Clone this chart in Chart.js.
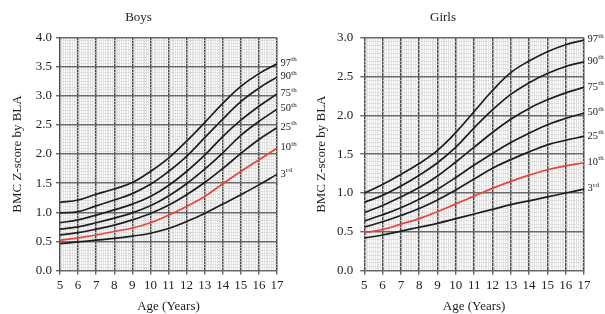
<!DOCTYPE html>
<html><head><meta charset="utf-8">
<script src="https://cdn.jsdelivr.net/npm/chart.js@4.4.1/dist/chart.umd.min.js"></script>
<style>
html,body{margin:0;padding:0;background:#fff;width:605px;height:314px;overflow:hidden}
.c{position:absolute;top:0;height:314px}
#wb{left:0;width:302px}
#wg{left:302px;width:303px}
</style></head><body>
<div class="c" id="wb"><canvas id="boys" width="302" height="314"></canvas></div>
<div class="c" id="wg"><canvas id="girls" width="303" height="314"></canvas></div>
<script>
// ---- data ----
const ages = [5,6,7,8,9,10,11,12,13,14,15,16,17];
const percentileNames = ['97','90','75','50','25','10','3'];
const percentileSuffix = ['th','th','th','th','th','th','rd'];

const boys97 = [1.17,1.21,1.31,1.40,1.51,1.70,1.93,2.22,2.54,2.87,3.16,3.38,3.55];
const boys90 = [0.99,1.01,1.11,1.21,1.32,1.48,1.70,1.96,2.28,2.60,2.90,3.13,3.32];
const boys75 = [0.82,0.87,0.95,1.04,1.14,1.27,1.46,1.70,1.98,2.30,2.58,2.82,3.03];
const boys50 = [0.71,0.75,0.82,0.90,0.99,1.11,1.28,1.49,1.74,2.02,2.32,2.56,2.77];
const boys25 = [0.61,0.65,0.71,0.78,0.87,0.98,1.12,1.30,1.51,1.75,2.01,2.25,2.45];
const boys10 = [0.52,0.56,0.61,0.67,0.73,0.82,0.95,1.10,1.27,1.49,1.70,1.90,2.10];
const boys3  = [0.46,0.49,0.52,0.55,0.59,0.64,0.72,0.84,0.98,1.14,1.30,1.47,1.65];

const girls97 = [1.00,1.11,1.24,1.38,1.55,1.78,2.05,2.32,2.55,2.70,2.82,2.91,2.97];
const girls90 = [0.88,0.97,1.09,1.23,1.39,1.59,1.84,2.07,2.27,2.42,2.54,2.63,2.69];
const girls75 = [0.75,0.84,0.95,1.07,1.22,1.40,1.59,1.78,1.95,2.09,2.20,2.29,2.36];
const girls50 = [0.64,0.72,0.81,0.92,1.05,1.20,1.36,1.51,1.65,1.77,1.88,1.96,2.03];
const girls25 = [0.56,0.63,0.71,0.80,0.91,1.04,1.18,1.32,1.43,1.53,1.62,1.68,1.73];
const girls10 = [0.49,0.53,0.60,0.67,0.76,0.86,0.96,1.06,1.15,1.23,1.30,1.35,1.39];
const girls3  = [0.42,0.46,0.51,0.56,0.61,0.67,0.73,0.79,0.85,0.90,0.95,1.00,1.05];

const boysSeries = [boys97,boys90,boys75,boys50,boys25,boys10,boys3];
const girlsSeries = [girls97,girls90,girls75,girls50,girls25,girls10,girls3];

// ---- rendering ----
const FONT = '"Liberation Serif", "Times New Roman", serif';
Chart.defaults.font.family = FONT;
Chart.defaults.font.size = 13;
Chart.defaults.color = '#222';

const isWhole = (v, step) => Math.abs(v/step - Math.round(v/step)) < 1e-6;

const pctLabels = {
  id: 'pctLabels',
  afterDatasetsDraw(chart) {
    const ctx = chart.ctx;
    chart.data.datasets.forEach((ds, i) => {
      const meta = chart.getDatasetMeta(i);
      const pt = meta.data[meta.data.length - 1];
      const x = chart.chartArea.right + 3.5, y = pt.y - 0.5;
      ctx.save();
      ctx.fillStyle = '#222';
      ctx.textBaseline = 'middle';
      ctx.textAlign = 'left';
      ctx.font = '10.5px ' + FONT;
      ctx.fillText(percentileNames[i], x, y);
      const w = ctx.measureText(percentileNames[i]).width;
      ctx.font = '7px ' + FONT;
      ctx.fillText(percentileSuffix[i], x + w + 0.3, y - 3.8);
      ctx.restore();
    });
  }
};

function makeChart(id, title, series, yMax, cfg) {
  const datasets = series.map((vals, i) => ({
    data: ages.map((a, j) => ({x: a, y: vals[j]})),
    borderColor: i === 5 ? '#e8453e' : '#1e1e1e',
    borderWidth: 1.7,
    pointRadius: 0,
    fill: false,
    tension: 0.4
  }));
  return new Chart(document.getElementById(id), {
    type: 'line',
    data: {datasets},
    plugins: [pctLabels],
    options: {
      responsive: false,
      animation: false,
      devicePixelRatio: 1,
      layout: {padding: {left: 0, right: cfg.rightPad, top: 0, bottom: 0}},
      plugins: {
        legend: {display: false},
        tooltip: {enabled: false},
        title: {display: true, text: title, font: {size: 13, weight: 'normal', lineHeight: 1.2},
                color: '#222', padding: {top: cfg.titleTop, bottom: cfg.titleBottom}}
      },
      scales: {
        x: {
          type: 'linear', min: 5, max: 17,
          border: {display: false},
          afterFit: s => { s.height = cfg.xH; },
          ticks: {
            stepSize: 0.1, autoSkip: false, maxRotation: 0, minRotation: 0, padding: 3,
            color: '#222', font: {size: 13},
            callback: v => isWhole(v, 1) ? String(Math.round(v)) : ''
          },
          grid: {
            drawTicks: true, tickLength: 4,
            color: c => isWhole(c.tick.value, 1) ? '#4a4a4a' : '#d9d9d9',
            lineWidth: c => isWhole(c.tick.value, 1) ? 1.5 : 0.7,
            tickColor: c => isWhole(c.tick.value, 1) ? '#4a4a4a' : 'rgba(0,0,0,0)',
            tickWidth: 1.2
          },
          title: {display: true, text: 'Age (Years)', font: {size: 13, lineHeight: 1.2}, color: '#222', padding: {top: 0, bottom: 0}}
        },
        y: {
          type: 'linear', min: 0, max: yMax,
          border: {display: false},
          afterFit: s => { s.width = cfg.yW; },
          ticks: {
            stepSize: 0.05, autoSkip: false, padding: cfg.yTickPad,
            color: '#222', font: {size: 13},
            callback: v => isWhole(v, 0.5) ? Number(v).toFixed(1) : ''
          },
          grid: {
            drawTicks: true, tickLength: 4,
            color: c => isWhole(c.tick.value, 0.5) ? '#6a6a6a' : '#d9d9d9',
            lineWidth: c => isWhole(c.tick.value, 0.5) ? 1.5 : 0.7,
            tickColor: c => isWhole(c.tick.value, 0.5) ? '#4a4a4a' : 'rgba(0,0,0,0)',
            tickWidth: 1.2
          },
          title: {display: true, text: 'BMC Z-score by BLA', font: {size: 13, lineHeight: 1.2}, color: '#222',
                  padding: {top: cfg.yTitlePad, bottom: 0}}
        }
      }
    }
  });
}

makeChart('boys', 'Boys', boysSeries, 4, {
  yW: 60, yTitlePad: 9.7, yTickPad: 4, rightPad: 25, titleTop: 10, titleBottom: 11.9, xH: 43.5
});
makeChart('girls', 'Girls', girlsSeries, 3, {
  yW: 62.3, yTitlePad: 11.9, yTickPad: 7, rightPad: 21, titleTop: 10, titleBottom: 12.1, xH: 43.3
});
</script>
</body></html>
